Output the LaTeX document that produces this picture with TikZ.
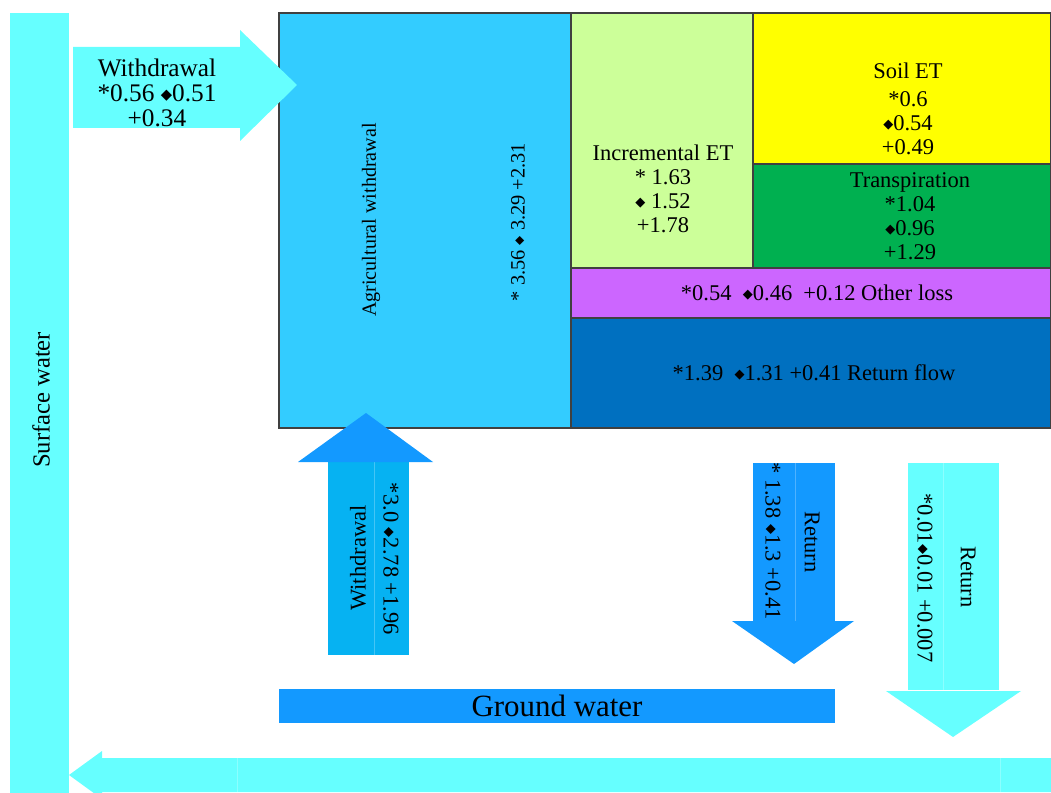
\documentclass[tikz,border=0pt]{standalone}
\usepackage{fontspec}
\setmainfont{Liberation Serif}
\newfontfamily\symfont{DejaVu Sans}
\newcommand{\dm}{\raisebox{0.08em}{\scalebox{0.58}{\symfont ◆}}}
\definecolor{aqua}{HTML}{66FFFF}
\definecolor{agri}{HTML}{33CCFF}
\definecolor{incet}{HTML}{CCFF99}
\definecolor{soilet}{HTML}{FFFF00}
\definecolor{transp}{HTML}{00B050}
\definecolor{oloss}{HTML}{CC66FF}
\definecolor{rflow}{HTML}{0070C0}
\definecolor{gwater}{HTML}{1399FF}
\definecolor{wshaft}{HTML}{06B2F2}
\begin{document}
\begin{tikzpicture}[x=0.025cm,y=-0.025cm,
  box/.style={draw=black!75,line width=0.9pt},
  seam/.style={white,opacity=0.25,line width=0.6pt},
  txt/.style={font=\fontsize{16}{17}\selectfont,align=center,inner sep=0pt},
  small/.style={font=\fontsize{14}{15}\selectfont,inner sep=0pt}]
\useasboundingbox (0,0) rectangle (1051,793);
% surface water and the flow back to it
\fill[aqua] (10,13) rectangle (69,793);
\fill[aqua] (1051,758) -- (102,758) -- (102,751) -- (69,775) -- (102,799) -- (102,792) -- (1051,792) -- cycle;
\draw[seam] (237,758) -- (237,792) (1000,758) -- (1000,792);
\node[txt,font=\fontsize{17.5}{18}\selectfont,rotate=90] (sw) at (41,400) {Surface water};
% water balance boxes
\filldraw[box,fill=agri] (279,13) rectangle (571,428);
\filldraw[box,fill=incet] (571,13) rectangle (753,268);
\filldraw[box,fill=soilet] (753,13) rectangle (1051,164);
\filldraw[box,fill=transp] (753,164) rectangle (1051,268);
\filldraw[box,fill=oloss] (571,268) rectangle (1051,318);
\filldraw[box,fill=rflow] (571,318) rectangle (1051,428);
\node[small,font=\fontsize{14.3}{15}\selectfont,rotate=90] (agw) at (371,220) {Agricultural withdrawal};
\node[small,font=\fontsize{14.5}{15}\selectfont,rotate=90] (agv) at (518,222) {* 3.56 \dm\ 3.29 +2.31};
\node[txt] (iet) at (663,189) {Incremental ET\\* 1.63\\\dm\ 1.52\\+1.78};
\node[txt] (set) at (908,109) {Soil ET\\[3pt]*0.6\\\dm0.54\\+0.49};
\node[txt] (tr) at (910,216) {Transpiration\\*1.04\\\dm0.96\\+1.29};
\node[txt] (ol) at (817,293) {*0.54\ \ \dm0.46\ \ +0.12 Other loss};
\node[txt] (rf) at (814,373) {*1.39\ \ \dm1.31 +0.41 Return flow};
% withdrawal from surface water
\fill[aqua] (73,47) -- (240,47) -- (240,30) -- (297,85) -- (240,141) -- (240,128) -- (73,128) -- cycle;
\node[txt,font=\fontsize{18}{18}\selectfont] (wsw) at (157,93) {Withdrawal\\*0.56 \dm0.51\\+0.34};
% ground water
\fill[gwater] (279,689) rectangle (835,723);
\node[txt,font=\fontsize{22}{22}\selectfont] (gw) at (557,706) {Ground water};
% withdrawal from ground water
\fill[wshaft] (328,462) rectangle (409,655);
\draw[seam] (374,462) -- (374,655);
\fill[gwater] (298,462) -- (433,462) -- (366,413) -- cycle;
\node[txt,rotate=90] (wgw) at (358,558) {Withdrawal};
\node[txt,rotate=-90] (wgv) at (391,559) {*3.0 \dm2.78 +1.96};
% return to ground water
\fill[gwater] (753,463) rectangle (835,621);
\draw[seam] (795,463) -- (795,621);
\fill[gwater] (732,621) -- (854,621) -- (794,664) -- cycle;
\node[txt,rotate=-90] (rgv) at (773,541) {* 1.38 \dm1.3 +0.41};
\node[txt,rotate=-90] (rg) at (812,542) {Return};
% return to surface water
\fill[aqua] (908,463) rectangle (999,690);
\draw[seam] (943,463) -- (943,690);
\fill[aqua] (886,691) -- (1021,691) -- (953,737) -- cycle;
\node[txt,rotate=-90] (rsv) at (925,578) {*0.01\dm0.01 +0.007};
\node[txt,rotate=-90] (rs) at (968,577) {Return};
\end{tikzpicture}
\end{document}
